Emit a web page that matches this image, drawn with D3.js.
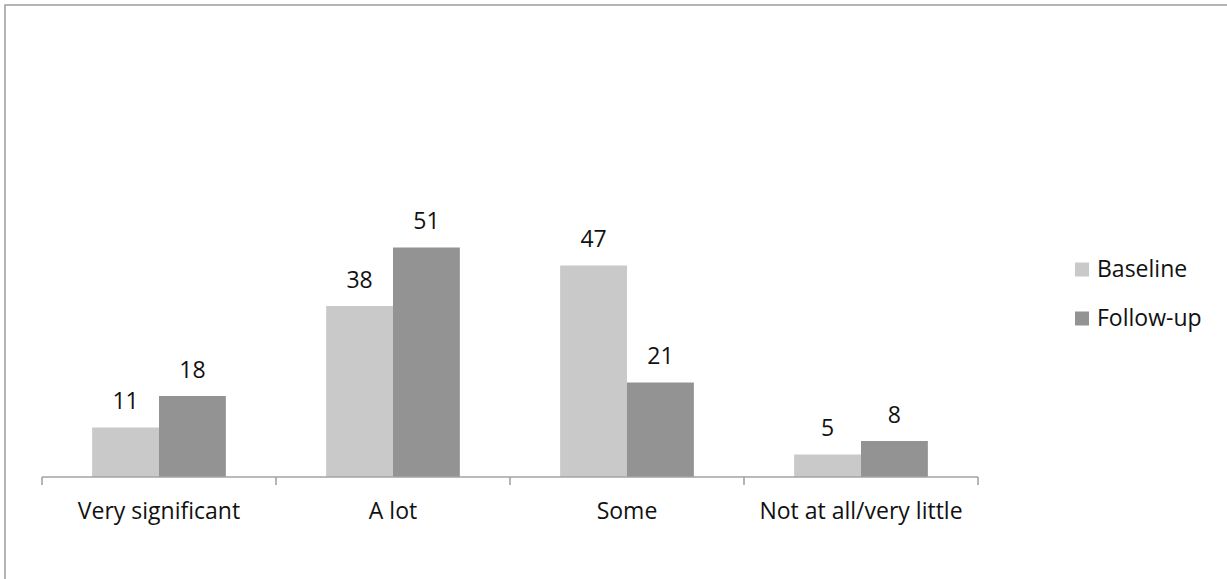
<!DOCTYPE html>
<html>
<head>
<meta charset="utf-8">
<script src="https://cdn.jsdelivr.net/npm/d3@7"></script>
<style>
  html, body { margin: 0; padding: 0; background: #fff; }
  svg { display: block; }
  text { font-family: "Open Sans", "Noto Sans", sans-serif; fill: #111; }
</style>
</head>
<body>
<svg id="chart" width="1227" height="579"></svg>
<script>
// Survey responses (%) at baseline and follow-up
const categories = ["Very significant", "A lot", "Some", "Not at all/very little"];
const seriesNames = ["Baseline", "Follow-up"];
const baseline = [11, 38, 47, 5];
const followUp = [18, 51, 21, 8];
const seriesColors = ["#c9c9c9", "#939393"];

const svg = d3.select("#chart");
const W = 1227, H = 579;
const fontSize = 23;

// outer chart frame
svg.append("rect")
  .attr("x", 5).attr("y", 5)
  .attr("width", W + 10).attr("height", H + 10)
  .attr("fill", "none")
  .attr("stroke", "#a3a3a3")
  .attr("stroke-width", 1.6);

const plot = { left: 42, right: 978, zeroY: 477 };
const pxPerUnit = 4.5;

const x0 = d3.scaleBand()
  .domain(categories)
  .range([plot.left, plot.right])
  .paddingInner(0).paddingOuter(0);

// bars occupy 2 of (2 + 1.5 gap) units of each band
const x1 = d3.scaleBand()
  .domain(seriesNames)
  .range([0, x0.bandwidth()])
  .paddingInner(0)
  .paddingOuter(0.75);

const y = d3.scaleLinear()
  .domain([0, 60])
  .range([plot.zeroY, plot.zeroY - 60 * pxPerUnit]);

const rows = categories.map((c, i) => ({
  category: c,
  values: [
    { series: seriesNames[0], value: baseline[i], color: seriesColors[0] },
    { series: seriesNames[1], value: followUp[i], color: seriesColors[1] }
  ]
}));

const groups = svg.append("g").selectAll("g")
  .data(rows)
  .join("g")
  .attr("transform", d => `translate(${x0(d.category)},0)`);

groups.selectAll("rect")
  .data(d => d.values)
  .join("rect")
  .attr("x", d => x1(d.series))
  .attr("y", d => y(d.value))
  .attr("width", x1.bandwidth())
  .attr("height", d => y(0) - y(d.value))
  .attr("fill", d => d.color);

groups.selectAll("text.val")
  .data(d => d.values)
  .join("text")
  .attr("class", "val")
  .attr("x", d => x1(d.series) + x1.bandwidth() / 2)
  .attr("y", d => y(d.value) - 18.5)
  .attr("text-anchor", "middle")
  .style("font-size", fontSize + "px")
  .text(d => d.value);

// category axis with tick marks between categories
const axisG = svg.append("g");
axisG.append("line")
  .attr("x1", plot.left).attr("x2", plot.right)
  .attr("y1", plot.zeroY).attr("y2", plot.zeroY)
  .attr("stroke", "#a3a3a3").attr("stroke-width", 1.6);

const tickXs = categories.map(c => x0(c)).concat([plot.right]);
axisG.selectAll("line.tick")
  .data(tickXs)
  .join("line")
  .attr("class", "tick")
  .attr("x1", d => d).attr("x2", d => d)
  .attr("y1", plot.zeroY).attr("y2", plot.zeroY + 8)
  .attr("stroke", "#a3a3a3").attr("stroke-width", 1.6);

axisG.selectAll("text.cat")
  .data(categories)
  .join("text")
  .attr("class", "cat")
  .attr("x", d => x0(d) + x0.bandwidth() / 2)
  .attr("y", 518.5)
  .attr("text-anchor", "middle")
  .style("font-size", fontSize + "px")
  .text(d => d);

// legend
const legend = svg.append("g").selectAll("g")
  .data(seriesNames)
  .join("g")
  .attr("transform", (d, i) => `translate(1075,${262.5 + i * 49})`);

legend.append("rect")
  .attr("width", 14).attr("height", 14)
  .attr("fill", (d, i) => seriesColors[i]);

legend.append("text")
  .attr("x", 22).attr("y", 14.3)
  .style("font-size", fontSize + "px")
  .text(d => d);
</script>
</body>
</html>
